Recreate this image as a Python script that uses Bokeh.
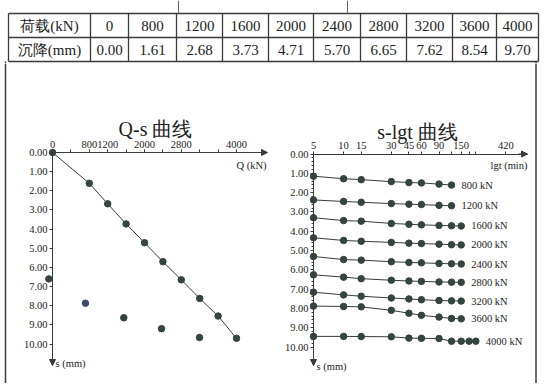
from bokeh.plotting import figure
from bokeh.layouts import column, row
from bokeh.models import (Range1d, FixedTicker, PrintfTickFormatter, Arrow, NormalHead,
                          Label, ColumnDataSource, LinearAxis, LogAxis, Span)
from bokeh.embed import file_html
from bokeh.resources import INLINE
from bokeh.core.properties import value

# ---------------- data ----------------
LOADS = [0, 800, 1200, 1600, 2000, 2400, 2800, 3200, 3600, 4000]
SETTLE = [0.00, 1.61, 2.68, 3.73, 4.71, 5.70, 6.65, 7.62, 8.54, 9.70]
ROW_HEADS = ["荷载(kN)", "沉降(mm)"]

STRAY_Q = [-80, 717, 1550, 2370, 3196]
STRAY_S = [6.60, 7.87, 8.63, 9.20, 9.66]
STRAY_C = ["#34443e", "#3b4a66", "#34443e", "#34443e", "#34443e"]

Q_TICK_LABELS = [0, 800, 1200, 2000, 2800, 4000]
Q_TICK_MARKS = [0, 400, 800, 1200, 1600, 2000, 2400, 2800, 3200, 3600, 4000]
S_TICKS = [0, 1, 2, 3, 4, 5, 6, 7, 8, 9, 10]

T_MIN = [5, 10, 15, 30, 45, 60, 90, 120, 150, 180, 210]
T_TICK_LABELS = [5, 10, 15, 30, 45, 60, 90, 150, 420]
T_TICK_MINOR = [120, 180, 210]

SLGT_LOADS = ["800 kN", "1200 kN", "1600 kN", "2000 kN", "2400 kN",
              "2800 kN", "3200 kN", "3600 kN", "4000 kN"]
S_800 = [1.15, 1.28, 1.33, 1.43, 1.48, 1.50, 1.56, 1.61]
S_1200 = [2.38, 2.46, 2.50, 2.57, 2.60, 2.62, 2.66, 2.68]
S_1600 = [3.30, 3.45, 3.48, 3.60, 3.64, 3.67, 3.70, 3.72, 3.73]
S_2000 = [4.34, 4.48, 4.52, 4.58, 4.62, 4.64, 4.67, 4.70, 4.71]
S_2400 = [5.31, 5.47, 5.50, 5.58, 5.62, 5.64, 5.67, 5.69, 5.70]
S_2800 = [6.26, 6.38, 6.46, 6.54, 6.58, 6.60, 6.63, 6.64, 6.65]
S_3200 = [7.16, 7.30, 7.37, 7.46, 7.51, 7.55, 7.59, 7.61, 7.62]
S_3600 = [7.88, 7.90, 7.92, 8.10, 8.25, 8.36, 8.45, 8.52, 8.54]
S_4000 = [9.45, 9.45, 9.46, 9.47, 9.54, 9.55, 9.56, 9.70, 9.70, 9.70, 9.70]
SLGT_SERIES = [S_800, S_1200, S_1600, S_2000, S_2400, S_2800, S_3200, S_3600, S_4000]

# ---------------- style ----------------
SERIF = "Liberation Serif"
INK = "#222222"
LINE = "#3a3a3a"
DOT = "#34443e"
QW, TW = 270, 275
W = QW + TW
H_TBL = 63
H_CH = 320


def base_fig(w, h, xr, yr, **kw):
    p = figure(width=w, height=h, x_range=xr, y_range=yr, output_backend="svg",
               toolbar_location=None, min_border=0, x_axis_location=None,
               y_axis_location=None, outline_line_color=None,
               background_fill_color="white", border_fill_color="white", **kw)
    p.grid.visible = False
    return p


def style_axis(ax):
    ax.axis_line_color = LINE
    ax.major_tick_line_color = LINE
    ax.minor_tick_line_color = LINE
    ax.major_tick_in = 0
    ax.major_tick_out = 3
    ax.minor_tick_in = 0
    ax.minor_tick_out = 3
    ax.major_label_text_font = SERIF
    ax.major_label_text_font_size = "10.5px"
    ax.major_label_text_color = INK
    ax.major_label_standoff = 2


# ---------------- table ----------------
tbl = base_fig(W, H_TBL, Range1d(0, W), Range1d(H_TBL, 0))
edges = [8, 90, 128, 176, 222, 268, 313, 360, 406, 452, 496, 538]
top, mid, bot = 13.0, 37.0, 61.0
tbl.segment(x0=[edges[0]] * 3, x1=[edges[-1]] * 3, y0=[top, mid, bot], y1=[top, mid, bot],
            line_color=LINE, line_width=1.3)
tbl.segment(x0=edges, x1=edges, y0=[top] * len(edges), y1=[bot] * len(edges),
            line_color=LINE, line_width=1.3)
# remains of the frame above the table
tbl.segment(x0=[178, 347], x1=[178, 347], y0=[0, 0], y1=[top, top], line_color="#666666", line_width=1)
# chart frame continues below table
tbl.segment(x0=[5, 535.5], x1=[5, 535.5], y0=[bot, bot], y1=[H_TBL, H_TBL],
            line_color=LINE, line_width=1.5)

centers = [(edges[i] + edges[i + 1]) / 2 for i in range(len(edges) - 1)]
cell_x = centers[1:]
tsrc = ColumnDataSource(dict(
    x=[centers[0], centers[0]] + cell_x + cell_x,
    y=[25.5, 49.5] + [25.5] * len(LOADS) + [49.5] * len(SETTLE),
    t=ROW_HEADS + [str(v) for v in LOADS] + ["%.2f" % v for v in SETTLE]))
tbl.text(x="x", y="y", text="t", source=tsrc, text_align="center", text_baseline="middle",
         text_font=value(SERIF), text_font_size=value("15px"), text_color=INK)

# ---------------- Q-s chart ----------------
QX0, QK = 52.0, 0.046      # px of Q=0, px per kN
SY0, SK = 89.0, 19.15      # px of s=0 (from figure top), px per mm


def qx(px):
    return (px - QX0) / QK


def qy(py):
    return (py - SY0) / SK


qs = base_fig(QW, H_CH, Range1d(qx(0), qx(QW)), Range1d(qy(H_CH), qy(0)))

xa = LinearAxis(fixed_location=0, ticker=FixedTicker(ticks=Q_TICK_LABELS, minor_ticks=Q_TICK_MARKS),
                bounds=(0, qx(266)))
ya = LinearAxis(fixed_location=0, ticker=FixedTicker(ticks=S_TICKS), bounds=(0, qy(301)),
                formatter=PrintfTickFormatter(format="%.2f"))
style_axis(xa)
style_axis(ya)
qs.add_layout(xa, "above")
qs.add_layout(ya, "left")

qs.line(LOADS, SETTLE, line_color=LINE, line_width=1)
qs.scatter(LOADS, SETTLE, size=6.5, color=DOT)
qs.scatter(STRAY_Q, STRAY_S, size=6.5, color=STRAY_C)

qs.add_layout(Arrow(end=NormalHead(size=6, fill_color=LINE, line_color=LINE),
                    x_start=qx(258), y_start=0, x_end=qx(267), y_end=0, line_color=LINE))
qs.add_layout(Arrow(end=NormalHead(size=6, fill_color=LINE, line_color=LINE),
                    x_start=0, y_start=qy(292), x_end=0, y_end=qy(302), line_color=LINE))
qs.add_layout(Label(x=qx(155), y=qy(65), text="Q-s 曲线", text_font=SERIF, text_font_size="20px",
                    text_align="center", text_baseline="middle", text_color=INK))
qs.add_layout(Label(x=qx(266), y=qy(102), text="Q (kN)", text_font=SERIF, text_font_size="10.5px",
                    text_align="right", text_baseline="middle", text_color=INK))
qs.add_layout(Label(x=qx(55), y=qy(300), text="s (mm)", text_font=SERIF, text_font_size="10.5px",
                    text_align="left", text_baseline="middle", text_color=INK))
qs.add_layout(Span(location=qx(5), dimension="height", line_color=LINE, line_width=1.5))

# ---------------- s-lgt chart ----------------
TX0, TK = 43.0, 100.0      # px of t=5, px per decade
BY0, BK = 90.5, 19.3


def tx(px):
    return 5 * 10 ** ((px - TX0) / TK)


def ty(py):
    return (py - BY0) / BK


sl = base_fig(TW, H_CH, Range1d(tx(0), tx(TW)), Range1d(ty(H_CH), ty(0)), x_axis_type="log")

txa = LogAxis(fixed_location=0, ticker=FixedTicker(ticks=T_TICK_LABELS, minor_ticks=T_TICK_MINOR),
              bounds=(5, tx(257)), formatter=PrintfTickFormatter(format="%d"))
tya = LinearAxis(fixed_location=5, ticker=FixedTicker(ticks=S_TICKS,
                 minor_ticks=[i / 5 for i in range(0, 51)]),
                 bounds=(0, ty(302)), formatter=PrintfTickFormatter(format="%.2f"))
style_axis(txa)
style_axis(tya)
tya.minor_tick_out = 2
sl.add_layout(txa, "above")
sl.add_layout(tya, "left")

lx, ly, lt = [], [], []
for name, ser in zip(SLGT_LOADS, SLGT_SERIES):
    ts = T_MIN[:len(ser)]
    sl.line(ts, ser, line_color=LINE, line_width=1)
    sl.scatter(ts, ser, size=6.5, color=DOT)
    lx.append(ts[-1])
    ly.append(ser[-1])
    lt.append(name)
sl.text(x=lx, y=ly, text=lt, x_offset=10, text_baseline="middle", text_align="left",
        text_font=value(SERIF), text_font_size=value("10.5px"), text_color=INK)

sl.add_layout(Arrow(end=NormalHead(size=6, fill_color=LINE, line_color=LINE),
                    x_start=tx(248), y_start=0, x_end=tx(257), y_end=0, line_color=LINE))
sl.add_layout(Arrow(end=NormalHead(size=6, fill_color=LINE, line_color=LINE),
                    x_start=5, y_start=ty(292), x_end=5, y_end=ty(302), line_color=LINE))
sl.add_layout(Label(x=tx(147), y=ty(68), text="s-lgt 曲线", text_font=SERIF, text_font_size="20px",
                    text_align="center", text_baseline="middle", text_color=INK))
sl.add_layout(Label(x=tx(257), y=ty(102), text="lgt (min)", text_font=SERIF, text_font_size="10.5px",
                    text_align="right", text_baseline="middle", text_color=INK))
sl.add_layout(Label(x=tx(46), y=ty(303), text="s (mm)", text_font=SERIF, text_font_size="10.5px",
                    text_align="left", text_baseline="middle", text_color=INK))
sl.add_layout(Span(location=tx(265.5), dimension="height", line_color=LINE, line_width=1.5))

layout = column(tbl, row(qs, sl))
open("out.html", "w").write(file_html(layout, INLINE))
